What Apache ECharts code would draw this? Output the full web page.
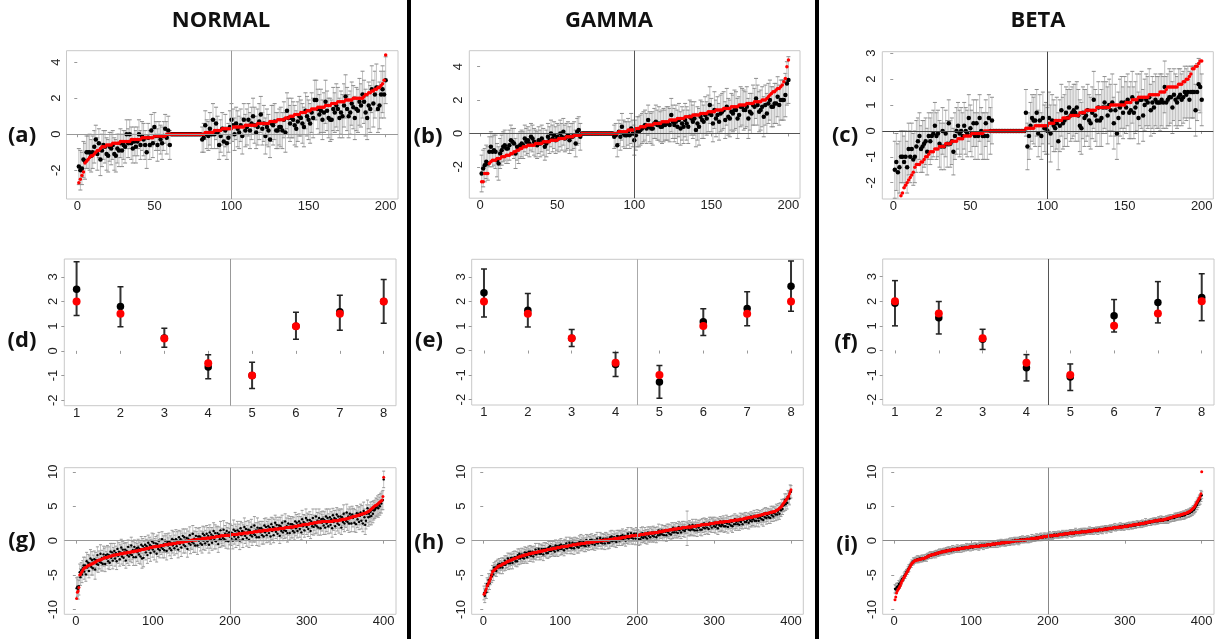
<!DOCTYPE html>
<html><head><meta charset="utf-8">
<script src="https://cdn.jsdelivr.net/npm/echarts@6/dist/echarts.min.js"></script>
<style>html,body{margin:0;padding:0;background:#fff}#c{width:1223px;height:639px}</style>
</head><body><div id="c"></div>
<script>
// ---------- tick labels ----------
const ticks200 = [0, 50, 100, 150, 200];
const ticks400 = [0, 100, 200, 300, 400];
const ticks8 = [1, 2, 3, 4, 5, 6, 7, 8];
const yTicksAB = [-2, 0, 2, 4];
const yTicksC = [-2, -1, 0, 1, 2, 3];
const yTicksRow2 = [-2, -1, 0, 1, 2, 3];
const yTicksRow3 = [-10, -5, 0, 5, 10];
const columnTitles = ['NORMAL', 'GAMMA', 'BETA'];
const panelLabels = ['(a)', '(b)', '(c)', '(d)', '(e)', '(f)', '(g)', '(h)', '(i)'];

// ---------- (a) NORMAL, 200 effects ----------
const aTrue = [
-2.7,-2.5,-2.3,-2.1,-1.6,-1.5,-1.4,-1.3,-1.2,-1.2,
-1.1,-1,-.9,-.9,-.8,-.7,-.7,-.7,-.6,-.6,
-.6,-.6,-.5,-.5,-.5,-.5,-.5,-.4,-.4,-.4,
-.4,-.4,-.4,-.4,-.3,-.3,-.3,-.3,-.3,-.3,
-.3,-.2,-.2,-.2,-.2,-.2,-.2,-.2,-.2,-.1,
-.1,-.1,-.1,-.1,-.1,-.1,-.1,0,0,0,
0,0,0,0,0,0,0,0,0,0,
0,0,0,0,0,0,0,0,0,0,
0,0,.1,.1,.1,.1,.1,.1,.2,.2,
.2,.2,.2,.3,.3,.3,.3,.3,.3,.3,
.4,.4,.4,.4,.4,.4,.4,.4,.5,.5,
.5,.5,.5,.5,.5,.5,.6,.6,.6,.6,
.6,.6,.6,.6,.7,.7,.7,.7,.7,.8,
.8,.8,.8,.8,.9,.9,.9,1,1,1,
1.1,1.1,1.1,1.1,1.2,1.2,1.2,1.2,1.3,1.3,
1.3,1.4,1.4,1.4,1.4,1.5,1.5,1.5,1.5,1.5,
1.6,1.6,1.6,1.6,1.7,1.7,1.7,1.7,1.8,1.8,
1.8,1.8,1.8,1.9,1.9,1.9,1.9,1.9,2,2,
2,2,2,2,2,2.1,2.2,2.2,2.3,2.3,
2.4,2.4,2.5,2.5,2.6,2.6,2.7,2.8,3,4.4];
const aEst = [
-1.8,-2,-1.9,-1.4,-1.5,-1,-1,-1,-1.2,-1,
-.7,-.3,-1.1,-.5,-1.4,-.9,-.6,-.7,-1.1,-1.2,
-.7,-.8,-.6,-1.1,-1.2,-.8,-.9,-.5,-.9,-.6,
-.7,0,-.5,0,-.5,-.8,-.4,-.7,-.4,0,
-.6,-.1,-.3,-.6,-1,-.2,-.6,.2,-.5,.4,
-.1,-.6,-.1,-.3,-.5,-.1,.3,-.2,.2,-.6,
0,0,0,0,0,0,0,0,0,0,
0,0,0,0,0,0,0,0,0,0,
-.3,-.2,.5,0,-.1,.3,0,.8,0,.6,
.1,-.6,-.1,.3,-.4,.2,-.5,-.2,.4,.8,
.5,0,.6,.3,.1,.5,-.1,.8,.2,.4,
.8,.2,.6,1,.5,.1,.4,.7,1.1,.3,
.6,-.1,.4,.2,-.3,.6,.5,.7,.2,.2,
.4,.4,.2,.8,.1,1.3,.9,.6,.9,.8,
.5,.3,.7,1,.9,.6,.4,1.3,1,.8,
.6,1.2,.9,1.9,1.9,1.4,1.1,1.3,.8,1.2,
1.8,1.3,.9,.8,.8,1.4,1.2,1.6,1.4,.9,
1.2,1,1.6,2.1,1.4,1,1.2,1.7,1.5,.9,
1.4,1.3,1.8,1.6,2.2,1.8,1.2,.9,1.6,1.4,
2.5,1.7,2.2,2.6,1.4,1.6,2.2,2.5,2.2,3];
const aErr = [
1,1.1,.9,1,1,.9,.9,1,.9,.9,
.9,.8,.9,.8,.9,.9,.8,.9,.9,.9,
.8,.9,.8,.9,.9,.8,.9,.8,.9,.8,
.9,.8,.8,.8,.9,.8,.8,.9,.8,.8,
.8,.8,.9,.8,.9,.8,.8,.9,.8,.8,
.8,.9,.8,.8,.9,.8,.8,.9,.8,.8,
0,0,0,0,0,0,0,0,0,0,
0,0,0,0,0,0,0,0,0,0,
.7,.8,.8,.8,.8,.9,.8,.9,.8,.9,
.9,.8,.9,.9,.8,.9,.9,.8,.9,.9,
.9,.9,.9,1,.9,.9,1,.9,.9,1,
.9,1,.9,1,1,.9,1,1,1,.9,
1,1,1,.9,1,1,1.1,1,1,1,
1,1.1,1,1,1.1,1,1.1,1,1.1,1,
1.1,1,1.1,1.1,1,1.1,1.1,1,1.1,1.1,
1.1,1.1,1.1,1.1,1.1,1.1,1.1,1.2,1.1,1.1,
1.2,1.1,1.1,1.2,1.1,1.2,1.1,1.2,1.2,1.1,
1.2,1.2,1.2,1.2,1.2,1.2,1.2,1.2,1.2,1.2,
1.2,1.2,1.3,1.2,1.3,1.2,1.3,1.2,1.3,1.3,
1.3,1.3,1.3,1.3,1.3,1.3,1.3,1.3,1.3,1.3];

// ---------- (b) GAMMA, 200 effects ----------
const bTrue = [
-2.9,-2.9,-2.4,-2.4,-2.4,-1.8,-1.7,-1.6,-1.6,-1.6,
-1.5,-1.5,-1.5,-1.4,-1.4,-1.4,-1.3,-1.3,-1.3,-1.2,
-1.2,-1.1,-1.1,-1,-1,-.9,-.9,-.8,-.8,-.8,
-.7,-.7,-.7,-.7,-.7,-.6,-.6,-.6,-.6,-.6,
-.5,-.5,-.5,-.5,-.5,-.4,-.4,-.4,-.4,-.4,
-.3,-.3,-.3,-.3,-.3,-.2,-.2,-.2,-.2,-.2,
-.1,-.1,-.1,-.1,-.1,0,0,0,0,0,
0,0,0,0,0,0,0,0,0,0,
0,0,0,0,0,0,0,0,0,.1,
.1,.1,.1,.1,.1,.2,.2,.2,.2,.2,
.3,.3,.3,.4,.4,.4,.4,.5,.5,.5,
.5,.5,.6,.6,.6,.6,.6,.7,.7,.7,
.7,.7,.8,.8,.8,.8,.8,.9,.9,.9,
.9,.9,1,1,1,1,1,1.1,1.1,1.1,
1.1,1.1,1.2,1.2,1.2,1.2,1.2,1.3,1.3,1.3,
1.3,1.3,1.4,1.4,1.4,1.4,1.4,1.5,1.5,1.5,
1.5,1.5,1.6,1.6,1.6,1.6,1.6,1.7,1.7,1.7,
1.7,1.7,1.8,1.8,1.8,1.8,1.8,1.9,1.9,1.9,
1.9,1.9,2,2,2,2.1,2.2,2.3,2.4,2.5,
2.5,2.6,2.7,2.7,2.8,2.9,3.1,3.3,4,4.4];
const bEst = [
-2.4,-2.1,-1.9,-1.7,-1.8,-1.1,-.8,-1.1,-1,-1.1,
-1.6,-1.8,-1.2,-1,-.8,-.7,-.9,-.9,-.7,-.4,
-.5,-.6,-1.2,-.8,-.9,-.7,-.6,-.7,-.3,-.5,
-.4,-.6,-.2,-.3,-.5,-.6,-.7,-.4,-.6,-.3,
-.5,-.8,-.6,-.2,-.4,0,-.3,-.1,-.4,-.2,
-.3,0,-.2,.1,-.3,-.2,-.1,-.4,-.2,-.2,
-.1,-.6,.1,.2,-.2,0,0,0,0,0,
0,0,0,0,0,0,0,0,0,0,
0,0,0,0,0,0,-.2,-.1,-.7,.1,
-.2,.4,0,-.1,-.1,.1,-.1,.3,0,-.4,
-.1,.1,.1,.2,.3,.4,.5,.3,.8,.4,
.3,.3,.6,.7,.5,.6,.4,.4,.5,.5,
.6,.6,.5,1.1,.7,.5,.7,.4,.8,.3,
.6,.4,.8,.6,.4,1,.9,.7,.9,.2,
.6,.4,1,.8,.7,1.1,.9,1.2,1.7,1.1,
.6,1.4,.9,1.1,.7,1.2,1.3,1.4,.8,1.6,
1,.9,1.3,1.2,1.4,1.4,.9,1.1,1.6,1.6,
1.4,1.4,1.6,.9,1.3,1.2,1.7,1.6,2.1,1.7,
1.3,1.4,1.6,1,1.7,1.2,1.8,2,1.6,1.6,
1.8,1.8,2.2,1.7,2,2,2,2.3,3,3.2];
const bErr = [
1.1,1.1,1,1,1,.9,.9,.9,.9,1,
1,1,.9,.9,.9,.9,.9,.9,.9,.9,
.8,.9,.9,.8,.9,.8,.8,.8,.8,.8,
.8,.8,.8,.8,.8,.8,.8,.8,.8,.8,
.8,.8,.8,.8,.8,.8,.8,.8,.8,.8,
.8,.8,.8,.8,.8,.8,.8,.8,.8,.8,
.8,.8,.8,.8,.8,0,0,0,0,0,
0,0,0,0,0,0,0,0,0,0,
0,0,0,0,0,0,.7,.7,.7,.7,
.8,.8,.8,.8,.8,.8,.8,.9,.8,.9,
.9,.9,.9,.9,.9,.9,.9,.9,.9,.9,
.9,1,.9,1,.9,1,.9,1,1,.9,
1,1,1,1,1,1,1,1,1,1,
1,1,1,1,1,1,1,1,1,1,
1,1.1,1,1.1,1,1.1,1,1.1,1.1,1,
1.1,1.1,1.1,1.1,1.1,1.1,1.1,1.1,1.1,1.1,
1.1,1.1,1.1,1.1,1.2,1.1,1.2,1.1,1.2,1.1,
1.2,1.1,1.2,1.2,1.1,1.2,1.2,1.1,1.2,1.2,
1.2,1.2,1.2,1.2,1.2,1.2,1.2,1.2,1.2,1.2,
1.2,1.2,1.2,1.2,1.2,1.2,1.2,1.3,1.3,1.4];

// ---------- (c) BETA, 200 effects ----------
const cTrue = [
-3.2,-3,-2.9,-2.7,-2.5,-2.4,-2.2,-2.1,-2,-1.9,
-1.8,-1.7,-1.6,-1.4,-1.3,-1.3,-1.3,-1.2,-1.2,-1.1,
-1,-1,-.9,-.8,-.8,-.8,-.7,-.7,-.7,-.6,
-.6,-.6,-.6,-.5,-.5,-.5,-.5,-.4,-.4,-.4,
-.4,-.3,-.3,-.3,-.3,-.2,-.2,-.2,-.2,-.2,
-.1,-.1,-.1,-.1,-.1,-.1,-.1,-.1,0,0,
0,0,0,0,0,0,0,0,0,0,
0,0,0,0,0,0,0,0,0,0,
0,0,0,0,0,.1,.1,.1,.1,.1,
.1,.2,.2,.2,.2,.2,.2,.2,.2,.2,
.3,.3,.3,.3,.4,.4,.4,.4,.4,.5,
.5,.5,.5,.5,.6,.6,.6,.6,.6,.6,
.7,.7,.7,.7,.8,.8,.8,.8,.8,.8,
.8,.9,.9,.9,.9,.9,.9,.9,.9,.9,
1,1,1,1,1,1,1,1,1,1,
1.1,1.1,1.1,1.1,1.2,1.2,1.2,1.2,1.3,1.3,
1.3,1.3,1.3,1.3,1.3,1.4,1.4,1.4,1.4,1.4,
1.4,1.4,1.5,1.5,1.5,1.5,1.6,1.7,1.7,1.7,
1.7,1.7,1.7,1.7,1.8,1.8,1.8,1.9,1.9,2,
2,2.1,2.2,2.4,2.4,2.5,2.5,2.6,2.7,2.7];
const cEst = [
-1.5,-1.2,-1.6,-1.4,-1,-1,-1.2,-1,-1.4,-.7,
-1,-.7,-1.1,-1,-.6,-.4,-.2,-.7,-.6,-.5,
-.4,-.8,-.2,-.4,-.2,-.1,.2,-.2,-.1,-.5,
-.6,0,-.6,-.1,-.5,.3,-.5,-.4,-.8,-.2,
0,.2,-.1,0,-.2,.2,0,-.1,.5,.1,
-.1,.3,-.2,.3,-.2,.5,0,-.2,-.2,.3,
-.2,.5,0,.4,0,0,0,0,0,0,
0,0,0,0,0,0,0,0,0,0,
0,0,0,0,0,.7,-.6,-.2,.2,.5,
.4,.4,.7,-.1,.4,-.2,.5,.1,.1,0,
.5,-.1,.4,.2,.1,.3,-.4,.2,.8,.3,
.4,.7,.5,.9,.6,.7,.8,.7,.9,.6,
.2,.1,.7,.5,.6,.8,.4,.3,.7,1.2,
.6,.4,.9,.4,.5,.9,1.1,.9,.6,1,
.8,1.1,.3,.8,-.1,.5,.9,1.1,.7,1.1,
.9,1.2,.7,.8,1.3,.7,.9,1.1,.5,1.2,
1.2,.6,1,1.2,1.1,1.3,.8,1.1,.9,1.2,
1.1,1.1,1.1,1.2,1.1,1.7,1.1,1.2,1.3,1.3,
.9,1.4,1.2,1.1,1.3,1.4,1.2,1.3,1.5,1.4,
1.5,1.2,1.5,1.5,1.5,.8,1.5,1.8,1.7,1.2];
const cErr = [
1.1,1.1,1.1,1,1,1,1,1,1,1,
1,1,1,1,1,.9,.9,.9,1,.9,
.9,.9,.9,.9,.9,.9,.9,.9,.9,.9,
.9,.9,.9,.9,.9,.9,.9,.9,.9,.9,
.9,.9,.9,.9,.9,.9,.9,.9,.9,.9,
.9,.9,.9,.9,.9,.9,.9,.9,.9,.9,
.9,.9,.9,.9,0,0,0,0,0,0,
0,0,0,0,0,0,0,0,0,0,
0,0,0,0,0,.9,.9,.9,.9,.9,
.9,1,.9,.9,1,.9,1,.9,1,.9,
1,1.1,1,1,.9,1,1.1,1,1,1,
1,1,1.1,1,1,1,1,1.1,1,1,
1,1,1,1.1,1,1,1,1,1,1.1,
1,1,1,1,1.1,1,1,1,1.1,1,
1,1.1,1,1,1,1,1.1,1,1,1,
1,1,1,1.1,1,1,1,1.1,1,1,
1.1,1,1,1,1,1.1,1,1,1,1,
1,1,1.1,1,1,1,1,1,1.1,1,
1,1,1,1,1.1,1,1,1,1,1,
1,1.1,1,1,1,1,1.1,1,1,1];

// ---------- (d)(e)(f) 8 effects ----------
const trueEffects8 = [2, 1.5, .5, -.5, -1, 1, 1.5, 2];
const dEst = [2.5, 1.8, .52, -.65, -1, 1, 1.58, 2];
const dLo  = [1.43, .98, .15, -1.13, -1.52, .47, .83, 1.12];
const dHi  = [3.61, 2.6, .92, -.16, -.46, 1.56, 2.25, 2.89];
const eEst = [2.36, 1.64, .5, -.57, -1.28, 1.17, 1.71, 2.62];
const eLo  = [1.37, .96, .16, -1.06, -1.94, .61, 1.01, 1.6];
const eHi  = [3.32, 2.33, .86, -.08, -.61, 1.7, 2.4, 3.65];
const fEst = [1.92, 1.33, .46, -.7, -1.08, 1.41, 1.95, 2.15];
const fLo  = [1, .67, .04, -1.24, -1.63, .75, 1.12, 1.21];
const fHi  = [2.84, 1.99, .86, -.17, -.55, 2.07, 2.8, 3.12];

// ---------- (g) NORMAL, 400 effects ----------
const gTrue = [
-8.4,-7.5,-7.3,-6.8,-5,-4.9,-4.7,-4.5,-4.3,-4.1,
-4,-3.9,-3.9,-3.8,-3.7,-3.6,-3.6,-3.5,-3.5,-3.4,
-3.4,-3.3,-3.3,-3.2,-3.1,-3.1,-3,-2.9,-2.9,-2.8,
-2.8,-2.8,-2.7,-2.7,-2.6,-2.6,-2.5,-2.5,-2.5,-2.4,
-2.4,-2.4,-2.3,-2.3,-2.3,-2.2,-2.2,-2.2,-2.1,-2.1,
-2.1,-2.1,-2,-2,-2,-2,-1.9,-1.9,-1.9,-1.9,
-1.9,-1.8,-1.8,-1.8,-1.8,-1.8,-1.7,-1.7,-1.7,-1.7,
-1.7,-1.6,-1.6,-1.6,-1.6,-1.5,-1.5,-1.5,-1.5,-1.5,
-1.4,-1.4,-1.4,-1.4,-1.3,-1.3,-1.3,-1.3,-1.2,-1.2,
-1.2,-1.1,-1.1,-1.1,-1.1,-1,-1,-1,-1,-.9,
-.9,-.9,-.9,-.9,-.8,-.8,-.8,-.8,-.8,-.7,
-.7,-.7,-.7,-.7,-.6,-.6,-.6,-.6,-.6,-.5,
-.5,-.5,-.5,-.5,-.5,-.4,-.4,-.4,-.4,-.4,
-.3,-.3,-.3,-.3,-.3,-.2,-.2,-.2,-.2,-.2,
-.1,-.1,-.1,-.1,-.1,0,0,0,0,0,
.1,.1,.1,.1,.1,.1,.1,.2,.2,.2,
.2,.2,.2,.3,.3,.3,.3,.3,.3,.4,
.4,.4,.4,.4,.4,.5,.5,.5,.5,.5,
.5,.6,.6,.6,.6,.6,.6,.7,.7,.7,
.7,.7,.7,.8,.8,.8,.8,.8,.8,.8,
.8,.9,.9,.9,.9,.9,.9,.9,.9,.9,
1,1,1,1,1,1,1,1.1,1.1,1.1,
1.1,1.1,1.1,1.1,1.2,1.2,1.2,1.2,1.2,1.2,
1.3,1.3,1.3,1.3,1.3,1.3,1.4,1.4,1.4,1.4,
1.4,1.4,1.4,1.5,1.5,1.5,1.5,1.5,1.5,1.5,
1.6,1.6,1.6,1.6,1.6,1.6,1.6,1.7,1.7,1.7,
1.7,1.7,1.7,1.7,1.8,1.8,1.8,1.8,1.8,1.8,
1.8,1.9,1.9,1.9,1.9,1.9,1.9,2,2,2,
2,2,2,2.1,2.1,2.1,2.1,2.1,2.2,2.2,
2.2,2.2,2.2,2.3,2.3,2.3,2.3,2.3,2.4,2.4,
2.4,2.4,2.4,2.5,2.5,2.5,2.5,2.5,2.6,2.6,
2.6,2.6,2.6,2.7,2.7,2.7,2.7,2.7,2.7,2.8,
2.8,2.8,2.8,2.8,2.8,2.8,2.8,2.8,2.8,2.8,
2.8,2.8,2.8,2.9,2.9,2.9,2.9,2.9,2.9,2.9,
2.9,3,3,3,3,3.1,3.1,3.1,3.1,3.1,
3.2,3.2,3.2,3.3,3.3,3.3,3.4,3.4,3.4,3.5,
3.5,3.5,3.6,3.6,3.6,3.7,3.7,3.7,3.8,3.8,
3.8,3.9,3.9,3.9,4,4,4.1,4.1,4.2,4.2,
4.3,4.4,4.5,4.6,4.7,4.8,4.9,5,5.1,5.1,
5.2,5.3,5.4,5.5,5.6,5.7,5.8,5.9,6.4,9.2];
const gEst = [
-6.9,-6.7,-7.1,-6.6,-4.6,-5.3,-4.3,-4.9,-4,-3.6,
-4.5,-3.6,-4.9,-3,-3.9,-3.2,-4.4,-3.3,-2.6,-3.8,
-2.8,-4,-3.2,-2.7,-4.2,-2.8,-3.4,-2.1,-3.5,-2.8,
-3.1,-1.9,-3.2,-2.5,-3.4,-2,-2.4,-3.4,-2.1,-2.6,
-2,-3,-2.1,-3.2,-1.6,-2.5,-1.7,-2.9,-2,-1.5,
-2.6,-1.8,-3,-1.2,-2.2,-1.6,-2.7,-1.7,-1,-2.3,
-1.3,-2.5,-1.7,-1.3,-2.9,-1.5,-2.1,-.9,-2.3,-1.7,
-2,-.7,-2.1,-1.4,-2.4,-.9,-1.4,-2.4,-1.1,-1.7,
-1,-2,-1.2,-2.3,-.6,-2.6,-.8,-2.5,-1.1,-.6,
-1.7,-.8,-2.1,-.3,-1.3,-.6,-1.8,-.8,-.1,-1.3,
-.3,-1.6,-.8,-.4,-1.9,-.5,-1.2,0,-1.4,-.7,
-1,.2,-1.2,-.5,-1.4,0,-.5,-1.5,-.2,-.7,
-.1,-1.1,-.3,-1.4,.2,-.7,.1,-1.1,-.3,.2,
-.8,0,-1.3,.5,-.5,.2,-1,0,.7,-.6,
.5,-.8,0,.4,-1.2,.3,-.4,.8,-.6,0,
-.2,1,-.4,.3,-.7,.7,.2,-.7,.6,0,
.6,-.4,.4,-.6,1,0,.8,-.4,.4,1,
-.1,.7,-.6,1.2,.2,.9,-.3,.7,1.4,.1,
1.1,-.1,.7,1.1,-.5,.9,.2,1.5,.1,.7,
.4,1.6,.2,1,0,1.4,.9,-.1,1.2,.6,
1.2,.3,1.1,0,1.6,.6,1.4,.2,1,1.5,
.5,1.3,0,1.8,.8,1.4,.2,1.3,2,.7,
1.7,.4,1.2,1.6,.1,1.5,.8,2,.6,1.2,
1,2.2,.8,1.5,.5,1.9,1.5,.5,1.8,1.2,
1.8,.8,1.6,.6,2.2,1.2,2,.8,1.6,2.1,
1.1,1.9,.6,2.4,1.4,2,.8,1.9,2.6,1.3,
2.3,1,1.8,2.2,.7,2.1,1.4,2.6,1.2,1.8,
1.5,2.8,1.4,2.1,1.1,2.5,2,1.1,2.4,1.8,
2.4,1.4,2.2,1.2,2.8,1.8,2.6,1.4,2.3,2.8,
1.7,2.5,1.2,3.1,2.1,2.7,1.5,2.5,3.3,2,
3,1.7,2.5,3,1.4,2.8,2.1,3.3,2,2.6,
2.3,3.5,2.1,2.9,1.9,3.3,2.8,1.8,3.1,2.6,
3.2,2.2,3,1.9,3.5,2.5,3.3,2.1,2.9,3.4,
2.3,3.1,1.8,3.7,2.7,3.3,2.1,3.1,3.8,2.5,
3.5,2.3,3.1,3.5,1.9,3.4,2.7,3.9,2.5,3.1,
2.9,4.1,2.7,3.5,2.5,3.9,3.5,2.5,3.8,3.3,
3.6,2.6,3.5,2.4,4,3.1,3.9,2.7,3.6,4.1,
2.9,3.8,2.5,4.3,3.4,2.3,2.9,3.9,4.7,3.4,
3.9,3.5,4.2,3.6,4.5,3.9,4.4,4.4,4.6,4.9,
4.8,5.1,4.7,5.3,5,5.5,5.4,5.8,5.9,8.9];
const gErr = [
1.5,1.4,1.4,1.3,1.2,1.2,1.1,1.2,1.1,1.2,
1.1,1.2,1,1.3,1.1,1.2,1,1.1,1.3,1.2,
1.2,1,1.1,1.2,1.4,1.1,1,1.2,1.1,1.3,
1,1.3,1.2,1.1,1,1.2,1.3,1.1,1.2,1,
1.3,1.1,1.2,1,1.2,1.1,1.3,1.2,1,1.1,
1.1,1,1.2,1.2,1.1,1.3,1,1.1,1.2,1.1,
1.2,1.1,1.3,1,1.1,1.2,1.2,1,1.3,1.1,
1,1.2,1.1,1.3,1.2,1,1.1,1.2,1.1,1.3,
1.2,1.3,1,1.1,1.2,1.4,1.1,1.3,1,1.2,
1.1,1,1.2,1.1,1.3,1.1,1.2,1,1.2,1.1,
1.3,1.2,1.1,1,1.2,1.3,1.1,1.2,1.1,1,
1,1.1,1.3,1.2,1.1,1,1.2,1.3,1.2,1.1,
1.2,1.1,1,1.2,1.3,1.1,1.2,1,1.1,1.4,
1.1,1.3,1.2,1,1.1,1.2,1.3,1.1,1,1.2,
1.2,1,1.1,1.3,1.2,1.1,1,1.2,1.3,1.1,
1.1,1.2,1.3,1.1,1,1.2,1.1,1.3,1.2,1,
1.3,1.1,1,1.2,1.1,1.3,1.2,1,1.1,1.2,
1,1.2,1.2,1.1,1.3,1,1.1,1.2,1.2,1.3,
1.2,1.1,1.3,1,1.2,1.1,1.2,1.3,1,1.1,
1.1,1.3,1,1.2,1.1,1.2,1,1.1,1.3,1.2,
1.2,1,1.1,1.2,1.4,1.1,1,1.2,1.1,1.3,
1.2,1.1,1.3,1,1.1,1.2,1.2,1,1.3,1.1,
1.1,1.2,1,1.3,1.1,1.2,1,1.1,1.3,1.2,
1.2,1.3,1,1.1,1.2,1.4,1.1,1.3,1,1.2,
1,1.3,1.2,1.1,1,1.2,1.3,1.1,1.2,1,
1.3,1.2,1.1,1,1.2,1.3,1.1,1.2,1.1,1,
1.1,1,1.2,1.2,1.1,1.3,1,1.1,1.2,1.1,
1.2,1.1,1,1.2,1.3,1.1,1.2,1,1.1,1.4,
1.1,1,1.2,1.1,1.3,1.1,1.2,1,1.2,1.1,
1.2,1,1.1,1.3,1.2,1.1,1,1.2,1.3,1.1,
1,1.1,1.3,1.2,1.1,1,1.2,1.3,1.2,1.1,
1.3,1.1,1,1.2,1.1,1.3,1.2,1,1.1,1.2,
1.1,1.3,1.2,1,1.1,1.2,1.3,1.1,1,1.2,
1.2,1.1,1.3,1,1.2,1.1,1.2,1.3,1,1.1,
1.1,1.2,1.3,1.1,1,1.2,1.1,1.3,1.2,1,
1,1.2,1.2,1.1,1.3,1,1.1,1.2,1.2,1.3,
1.1,1.3,1,1.2,1.1,1.2,1,1.1,1.3,1.2,
1.2,1.3,1.2,1.3,1.2,1.4,1.2,1.3,1.2,1.3,
1.3,1.2,1.4,1.3,1.2,1.3,1.4,1.2,1.3,1.3,
1.3,1.4,1.3,1.4,1.3,1.4,1.4,1.3,1.4,1.2];

// ---------- (h) GAMMA, 400 effects ----------
const hTrue = [
-7.8,-7.6,-7.3,-7,-6.6,-6.4,-6.1,-5.9,-5.6,-5.3,
-4.9,-4.5,-4.4,-4.3,-4.2,-4.1,-4,-3.9,-3.8,-3.7,
-3.7,-3.6,-3.6,-3.5,-3.4,-3.4,-3.3,-3.3,-3.2,-3.1,
-3.1,-3,-3,-2.9,-2.9,-2.8,-2.8,-2.7,-2.7,-2.6,
-2.6,-2.6,-2.5,-2.5,-2.4,-2.4,-2.3,-2.3,-2.3,-2.2,
-2.2,-2.2,-2.1,-2.1,-2.1,-2,-2,-2,-1.9,-1.9,
-1.9,-1.9,-1.8,-1.8,-1.8,-1.8,-1.7,-1.7,-1.7,-1.7,
-1.6,-1.6,-1.6,-1.6,-1.5,-1.5,-1.5,-1.5,-1.4,-1.4,
-1.4,-1.4,-1.3,-1.3,-1.3,-1.3,-1.2,-1.2,-1.2,-1.2,
-1.1,-1.1,-1.1,-1.1,-1.1,-1,-1,-1,-1,-1,
-.9,-.9,-.9,-.9,-.9,-.8,-.8,-.8,-.8,-.8,
-.7,-.7,-.7,-.7,-.7,-.6,-.6,-.6,-.6,-.6,
-.6,-.5,-.5,-.5,-.5,-.5,-.4,-.4,-.4,-.4,
-.4,-.4,-.3,-.3,-.3,-.3,-.3,-.3,-.2,-.2,
-.2,-.2,-.2,-.2,-.1,-.1,-.1,-.1,-.1,-.1,
0,0,0,0,0,0,.1,.1,.1,.1,
.1,.1,.1,.2,.2,.2,.2,.2,.2,.3,
.3,.3,.3,.3,.3,.4,.4,.4,.4,.4,
.5,.5,.5,.5,.5,.6,.6,.6,.6,.6,
.6,.7,.7,.7,.7,.7,.7,.8,.8,.8,
.8,.8,.8,.9,.9,.9,.9,.9,.9,1,
1,1,1,1,1,1.1,1.1,1.1,1.1,1.1,
1.1,1.1,1.2,1.2,1.2,1.2,1.2,1.3,1.3,1.3,
1.3,1.3,1.4,1.4,1.4,1.4,1.5,1.5,1.5,1.5,
1.5,1.6,1.6,1.6,1.6,1.6,1.7,1.7,1.7,1.7,
1.7,1.7,1.8,1.8,1.8,1.8,1.8,1.8,1.9,1.9,
1.9,1.9,1.9,1.9,2,2,2,2,2,2,
2,2.1,2.1,2.1,2.1,2.1,2.1,2.2,2.2,2.2,
2.2,2.2,2.3,2.3,2.3,2.3,2.3,2.3,2.4,2.4,
2.4,2.4,2.4,2.4,2.5,2.5,2.5,2.5,2.5,2.5,
2.6,2.6,2.6,2.6,2.6,2.6,2.7,2.7,2.7,2.7,
2.7,2.7,2.7,2.8,2.8,2.8,2.8,2.8,2.8,2.8,
2.9,2.9,2.9,2.9,2.9,2.9,3,3,3,3,
3,3,3.1,3.1,3.1,3.1,3.1,3.2,3.2,3.2,
3.3,3.3,3.3,3.3,3.4,3.4,3.4,3.4,3.4,3.4,
3.5,3.5,3.5,3.6,3.6,3.6,3.6,3.7,3.7,3.7,
3.7,3.8,3.8,3.8,3.9,3.9,3.9,3.9,4,4,
4,4.1,4.1,4.1,4.1,4.2,4.2,4.2,4.2,4.3,
4.4,4.4,4.5,4.6,4.7,4.8,4.9,5,5.2,5.4,
5.5,5.7,5.8,6,6.1,6.3,6.5,6.8,7.1,7.4];
const hEst = [
-7.6,-8,-7.2,-7.5,-6.3,-6.6,-5.7,-6.2,-5.6,-5.1,
-5.2,-4.4,-4.9,-3.9,-4.3,-3.9,-4.4,-3.8,-3.5,-3.9,
-3.4,-3.9,-3.6,-3.3,-3.9,-3.3,-3.5,-2.9,-3.5,-3.1,
-3.2,-2.6,-3.3,-2.8,-3.3,-2.5,-2.8,-3.2,-2.5,-2.7,
-2.4,-3,-2.4,-3,-2.1,-2.6,-1.9,-2.6,-2.3,-2,
-2.5,-2.1,-2.6,-1.7,-2.2,-1.8,-2.4,-1.9,-1.6,-2.1,
-1.6,-2.2,-1.8,-1.6,-2.3,-1.7,-1.9,-1.3,-2,-1.7,
-1.7,-1.2,-1.9,-1.5,-1.9,-1.2,-1.5,-2,-1.2,-1.5,
-1.2,-1.8,-1.2,-1.8,-1,-1.5,-.8,-1.5,-1.2,-1,
-1.4,-1,-1.6,-.7,-1.2,-.8,-1.4,-.9,-.7,-1.2,
-.6,-1.2,-.9,-.7,-1.4,-.7,-1,-.4,-1.1,-.8,
-.8,-.3,-1,-.6,-1.1,-.3,-.6,-1.1,-.4,-.7,
-.4,-.9,-.4,-1,-.2,-.7,0,-.7,-.4,-.2,
-.7,-.3,-.8,.1,-.4,-.1,-.7,-.2,.1,-.4,
.1,-.5,-.2,0,-.6,0,-.3,.3,-.4,-.1,
-.1,.4,-.3,.1,-.4,.3,.1,-.4,.3,0,
.3,-.3,.2,-.3,.5,0,.6,-.1,.2,.5,
0,.4,-.2,.7,.2,.6,0,.5,.7,.2,
.8,.2,.5,.7,0,.7,.4,1,.3,.6,
.5,1.1,.4,.8,.3,1,.7,.3,1,.7,
.8,.2,.7,.2,1,.5,1.1,.4,.7,1,
.5,.9,.3,1.2,.7,1.1,.5,1,1.2,.7,
1.2,.6,1,1.2,.5,1.1,.8,1.5,.8,1.1,
1,1.5,.9,1.3,.8,1.5,1.3,.8,1.5,1.2,
1.5,1,1.5,.9,1.7,1.2,1.9,1.2,1.5,1.7,
1.2,1.6,1.1,2,1.5,1.8,1.2,1.7,2,1.5,
2,1.4,1.7,1.9,1.8,1.9,1.6,2.2,1.5,1.8,
1.7,2.3,1.6,2,1.5,2.2,1.9,1.5,2.2,1.9,
2.2,1.6,2.2,1.6,2.4,1.9,2.5,1.8,2.2,2.4,
1.9,2.3,1.7,2.6,2.2,2.5,1.9,2.4,2.6,2.1,
2.6,2,2.3,2.5,1.8,2.4,2.2,2.8,2.1,2.4,
2.3,2.8,2.1,2.6,2.1,2.8,2.5,2,2.7,2.4,
2.8,2.2,2.7,2.1,2.9,2.4,3.1,2.4,2.7,2.9,
2.4,2.8,2.3,3.2,2.7,3,2.4,3,3.2,2.7,
3.3,2.7,3,3.2,2.6,3.2,2.9,3.5,2.8,3.1,
3.1,3.6,2.9,3.4,2.9,3.6,3.3,2.9,3.6,3.3,
3.6,3.1,3.6,3,3.9,3.4,4,3.3,3.7,3.9,
3.4,3.9,3.3,4.2,3.7,4.1,3.5,4,4.2,3.8,
4.4,3.8,4.2,4.5,3.9,4.6,4.4,5.1,4.6,5.1,
5.2,5.9,5.3,5.9,5.5,6.4,6.3,6.1,7.1,7.1];
const hErr = [
1,1,1,.9,.9,.9,.9,.9,.8,.8,
.9,.8,.9,.7,.8,.9,.8,.9,.8,.7,
.8,.9,.7,.8,.9,.8,.9,.7,.8,.9,
.7,.8,.9,.9,.8,.7,.8,.9,.9,.8,
.9,.7,.8,.8,.9,.9,.7,.8,.8,.9,
.8,.9,.7,.8,.9,.8,.9,.7,.8,.9,
.9,.8,.9,.7,.8,.9,.8,.9,.8,.7,
.7,.8,.9,.9,.8,.7,.8,.9,.9,.8,
.9,.7,.8,.8,.9,.9,.7,.8,.8,.9,
.8,.9,.7,.8,.9,.8,.9,.7,.8,.9,
.9,.8,.9,.7,.8,.9,.8,.9,.8,.7,
.7,.8,.9,.9,.8,.7,.8,.9,.9,.8,
.8,.9,.7,.8,.9,.8,.9,.7,.8,.9,
.9,.7,.8,.8,.9,.9,.7,.8,.8,.9,
.9,.8,.9,.7,.8,.9,.8,.9,.8,.7,
.7,.8,.9,.9,.8,.7,.8,.9,.9,.8,
.8,.9,.7,.8,.9,.8,.9,.7,.8,.9,
.9,.7,.8,.8,.9,.9,.7,.8,.8,.9,
.9,.8,.9,.7,.8,.9,.8,.9,.8,.7,
.7,.8,.9,.9,.8,.7,.8,.9,.9,.8,
.8,.9,.7,.8,.9,.8,.9,.7,.8,.9,
.9,.7,.8,.8,.9,.9,.7,.8,.8,.9,
.9,.8,.9,.7,.8,.9,.8,.9,.8,.7,
.7,.8,.9,.9,.8,.7,.8,.9,.9,.8,
.9,.7,.8,.8,.9,.9,.7,.8,.8,.9,
.8,.9,.7,.8,.9,.8,.9,.7,.8,.9,
.8,.9,.7,.8,2.5,.8,.9,.7,.8,.9,
.9,.8,.9,.7,.8,.9,.8,.9,.8,.7,
.7,.8,.9,.9,.8,.7,.8,.9,.9,.8,
.9,.7,.8,.8,.9,.9,.7,.8,.8,.9,
.8,.9,.7,.8,.9,.8,.9,.7,.8,.9,
.9,.8,.9,.7,.8,.9,.8,.9,.8,.7,
.7,.8,.9,.9,.8,.7,.8,.9,.9,.8,
.9,.7,.8,.8,.9,.9,.7,.8,.8,.9,
.8,.9,.7,.8,.9,.8,.9,.7,.8,.9,
.9,.8,.9,.7,.8,.9,.8,.9,.8,.7,
.7,.8,.9,.9,.8,.7,.8,.9,.9,.8,
.9,.7,.8,.8,.9,.9,.7,.8,.8,.9,
.9,.8,.9,.9,.8,.9,.9,.9,.8,.9,
.9,.9,.9,.9,.9,.9,.9,.9,1,.9];

// ---------- (i) BETA, 400 effects ----------
const iTrue = [
-8.6,-8.2,-7.6,-7.3,-7.1,-6.9,-6.7,-6.5,-6.2,-5.9,
-5.7,-5.5,-5.3,-5.1,-4.9,-4.7,-4.5,-4.3,-4.1,-3.9,
-3.7,-3.5,-3.3,-3.2,-3.1,-3,-2.9,-2.9,-2.8,-2.8,
-2.8,-2.7,-2.7,-2.7,-2.7,-2.6,-2.6,-2.6,-2.6,-2.5,
-2.5,-2.4,-2.3,-2.3,-2.2,-2.2,-2.1,-2.1,-2.1,-2,
-2,-2,-1.9,-1.9,-1.9,-1.8,-1.8,-1.8,-1.7,-1.7,
-1.7,-1.6,-1.6,-1.6,-1.6,-1.5,-1.5,-1.5,-1.5,-1.4,
-1.4,-1.4,-1.4,-1.4,-1.3,-1.3,-1.3,-1.3,-1.3,-1.3,
-1.2,-1.2,-1.2,-1.2,-1.2,-1.1,-1.1,-1.1,-1.1,-1.1,
-1.1,-1,-1,-1,-1,-1,-1,-.9,-.9,-.9,
-.9,-.9,-.9,-.9,-.8,-.8,-.8,-.8,-.8,-.8,
-.8,-.7,-.7,-.7,-.7,-.7,-.7,-.7,-.7,-.6,
-.6,-.6,-.6,-.6,-.6,-.6,-.5,-.5,-.5,-.5,
-.5,-.5,-.4,-.4,-.4,-.4,-.4,-.4,-.3,-.3,
-.3,-.3,-.3,-.3,-.3,-.2,-.2,-.2,-.2,-.2,
-.2,-.1,-.1,-.1,-.1,-.1,0,0,0,0,
0,0,0,.1,.1,.1,.1,.1,.1,.1,
.1,.2,.2,.2,.2,.2,.2,.3,.3,.3,
.3,.3,.3,.4,.4,.4,.4,.4,.5,.5,
.5,.5,.5,.6,.6,.6,.6,.6,.6,.7,
.7,.7,.7,.7,.7,.7,.8,.8,.8,.8,
.8,.8,.8,.9,.9,.9,.9,.9,.9,.9,
1,1,1,1,1,1,1,1.1,1.1,1.1,
1.1,1.1,1.1,1.1,1.2,1.2,1.2,1.2,1.2,1.2,
1.2,1.2,1.3,1.3,1.3,1.3,1.3,1.3,1.3,1.3,
1.3,1.4,1.4,1.4,1.4,1.4,1.4,1.4,1.5,1.5,
1.5,1.5,1.5,1.5,1.5,1.6,1.6,1.6,1.6,1.6,
1.6,1.6,1.7,1.7,1.7,1.7,1.7,1.7,1.8,1.8,
1.8,1.8,1.8,1.8,1.9,1.9,1.9,1.9,1.9,1.9,
1.9,2,2,2,2,2,2,2,2.1,2.1,
2.1,2.1,2.1,2.1,2.2,2.2,2.2,2.2,2.2,2.3,
2.3,2.3,2.3,2.3,2.4,2.4,2.4,2.4,2.4,2.5,
2.5,2.5,2.5,2.5,2.5,2.6,2.6,2.6,2.6,2.7,
2.7,2.7,2.7,2.8,2.8,2.8,2.8,2.9,2.9,2.9,
2.9,2.9,2.9,3,3,3,3,3,3,3,
3.1,3.1,3.1,3.2,3.2,3.2,3.3,3.3,3.3,3.4,
3.4,3.4,3.5,3.5,3.5,3.6,3.6,3.6,3.7,3.7,
3.7,3.7,3.8,3.8,3.8,3.9,3.9,3.9,4,4,
4.1,4.1,4.2,4.2,4.3,4.4,4.5,4.6,4.7,4.8,
5,5.2,5.4,5.6,5.8,6,6.2,6.4,6.8,10];
const iEst = [
-7,-7.1,-6.8,-6.7,-6.6,-6.3,-6.4,-6.1,-5.9,-5.6,
-5.5,-5.5,-5.1,-5,-4.8,-4.5,-4.5,-4.2,-4,-3.8,
-3.6,-3.5,-3.2,-3.2,-3,-2.9,-2.9,-2.8,-2.8,-2.7,
-2.7,-2.8,-2.6,-2.7,-2.6,-2.6,-2.5,-2.7,-2.5,-2.5,
-2.4,-2.5,-2.3,-2.2,-2.3,-2.1,-2.1,-2.2,-2,-2,
-2.1,-1.9,-1.9,-2,-1.8,-1.8,-1.9,-1.7,-1.7,-1.8,
-1.6,-1.6,-1.7,-1.5,-1.6,-1.5,-1.6,-1.4,-1.5,-1.4,
-1.5,-1.3,-1.4,-1.5,-1.3,-1.2,-1.4,-1.3,-1.2,-1.3,
-1.3,-1.1,-1.2,-1.3,-1.1,-1.1,-1.2,-1,-1.1,-1.2,
-1,-1,-1.1,-.9,-1,-1.1,-.9,-.9,-1,-.8,
-.9,-1,-.8,-.9,-.8,-.9,-.7,-.8,-.8,-.9,
-.7,-.7,-.8,-.6,-.7,-.8,-.6,-.7,-.7,-.6,
-.7,-.5,-.6,-.6,-.7,-.5,-.5,-.6,-.4,-.5,
-.6,-.4,-.4,-.5,-.3,-.4,-.5,-.3,-.3,-.4,
-.2,-.3,-.4,-.2,-.3,-.3,-.1,-.2,-.3,-.2,
-.1,-.2,-.1,0,-.2,-.1,.1,0,-.1,0,
.1,-.1,0,.2,0,.1,.2,.1,0,.2,
.1,.1,.3,.2,.1,.3,.2,.2,.4,.3,
.2,.4,.3,.3,.5,.4,.3,.5,.4,.5,
.6,.4,.5,.5,.7,.6,.5,.6,.7,.6,
.7,.8,.6,.7,.8,.6,.8,.9,.7,.8,
.9,.7,.8,.9,.8,1,.9,.8,1,.9,
1,.9,1.1,1,.9,1.1,1,1,1.2,1.1,
1,1.2,1.1,1,1.2,1.3,1.1,1.2,1.2,1.1,
1.3,1.2,1.2,1.4,1.3,1.2,1.3,1.4,1.2,1.3,
1.4,1.3,1.4,1.5,1.3,1.4,1.5,1.4,1.4,1.6,
1.5,1.4,1.6,1.5,1.4,1.6,1.7,1.5,1.6,1.6,
1.5,1.7,1.6,1.7,1.8,1.6,1.7,1.8,1.7,1.8,
1.9,1.7,1.8,1.9,1.8,1.9,2,1.8,1.9,1.9,
2,1.9,2,2.1,1.9,2,2.1,2,2,2.2,
2,2.1,2.2,2,2.1,2.3,2.2,2.1,2.2,2.2,
2.3,2.2,2.4,2.2,2.3,2.4,2.3,2.5,2.3,2.4,
2.5,2.4,2.6,2.4,2.5,2.5,2.7,2.5,2.6,2.6,
2.6,2.8,2.6,2.7,2.8,2.7,2.9,2.8,2.8,3,
2.8,2.9,2.8,3,2.9,2.9,3.1,2.9,3,2.9,
3,3.1,3,3.1,3.2,3,3.2,3.3,3.2,3.3,
3.3,3.3,3.4,3.3,3.5,3.4,3.5,3.5,3.5,3.6,
3.6,3.5,3.7,3.6,3.6,3.8,3.7,3.7,3.8,3.9,
3.9,3.9,4,4,4.1,4.2,4.2,4.3,4.5,4.5,
4.7,4.9,5.1,5.2,5.5,5.7,5.9,6,6.5,6.6];
const iErr = [
.6,.6,.6,.5,.5,.5,.5,.5,.5,.4,
.4,.3,.4,.5,.4,.3,.4,.4,.5,.3,
.3,.4,.4,.3,.5,.4,.3,.4,.4,.5,
.5,.4,.3,.4,.4,.5,.4,.3,.4,.4,
.4,.5,.4,.4,.3,.4,.5,.4,.3,.4,
.4,.3,.4,.5,.4,.3,.4,.4,.5,.3,
.3,.4,.4,.3,.5,.4,.3,.4,.4,.5,
.5,.4,.3,.4,.4,.5,.4,.3,.4,.4,
.4,.5,.4,.4,.3,.4,.5,.4,.3,.4,
.4,.3,.4,.5,.4,.3,.4,.4,.5,.3,
.3,.4,.4,.3,.5,.4,.3,.4,.4,.5,
.5,.4,.3,.4,.4,.5,.4,.3,.4,.4,
.4,.5,.4,.4,.3,.4,.5,.4,.3,.4,
.4,.3,.4,.5,.4,.3,.4,.4,.5,.3,
.3,.4,.4,.3,.5,.4,.3,.4,.4,.5,
.5,.4,.3,.4,.4,.5,.4,.3,.4,.4,
.4,.5,.4,.4,.3,.4,.5,.4,.3,.4,
.4,.3,.4,.5,.4,.3,.4,.4,.5,.3,
.3,.4,.4,.3,.5,.4,.3,.4,.4,.5,
.5,.4,.3,.4,.4,.5,.4,.3,.4,.4,
.4,.5,.4,.4,.3,.4,.5,.4,.3,.4,
.4,.3,.4,.5,.4,.3,.4,.4,.5,.3,
.3,.4,.4,.3,.5,.4,.3,.4,.4,.5,
.5,.4,.3,.4,.4,.5,.4,.3,.4,.4,
.4,.5,.4,.4,.3,.4,.5,.4,.3,.4,
.4,.3,.4,.5,.4,.3,.4,.4,.5,.3,
.3,.4,.4,.3,.5,.4,.3,.4,.4,.5,
.5,.4,.3,.4,.4,.5,.4,.3,.4,.4,
.4,.5,.4,.4,.3,.4,.5,.4,.3,.4,
.4,.3,.4,.5,.4,.3,.4,.4,.5,.3,
.3,.4,.4,.3,.5,.4,.3,.4,.4,.5,
.5,.4,.3,.4,.4,.5,.4,.3,.4,.4,
.4,.5,.4,.4,.3,.4,.5,.4,.3,.4,
.4,.3,.4,.5,.4,.3,.4,.4,.5,.3,
.4,.4,.4,.5,.4,.4,.5,.4,.5,.4,
.5,.4,.5,.5,.4,.5,.5,.4,.5,.5,
.5,.5,.4,.5,.5,.5,.5,.5,.5,.5,
.5,.5,.5,.5,.5,.5,.6,.5,.5,.6,
.5,.5,.6,.5,.6,.6,.5,.6,.6,.6,
.6,.7,.6,.7,.7,.6,.7,.7,.8,.5];

// ---------- build chart ----------
const idx = n => Array.from({length: n}, (_, k) => k + 1);
const FONT = '"Liberation Sans", Arial, Helvetica, sans-serif';

const panels = [
  {box:[66.5,50.7,331.5,148.3], x:[-7,208], y:[-3.6,4.64], xt:ticks200, yt:yTicksAB, vx:100, hz:true, lc:'#999', kind:'row1', xs:idx(200), tru:aTrue, est:aEst, err:aErr},
  {box:[469.3,50.7,330.7,147.5], x:[-7,207.5], y:[-3.88,4.96], xt:ticks200, yt:yTicksAB, vx:100, hz:true, lc:'#555', kind:'row1', xs:idx(200), tru:bTrue, est:bEst, err:bErr},
  {box:[882.3,51.7,331,147.3], x:[-7.1,207.5], y:[-2.63,3.06], xt:ticks200, yt:yTicksC, vx:100, hz:true, lc:'#444', kind:'row1', xs:idx(200), tru:cTrue, est:cEst, err:cErr},
  {box:[64.3,259,331.7,146.7], x:[.72,8.28], y:[-2.22,3.72], xt:ticks8, yt:yTicksRow2, vx:4.5, hz:false, lc:'#999', kind:'row2', xs:ticks8, tru:trueEffects8, est:dEst, lo:dLo, hi:dHi},
  {box:[471.7,259.3,331.6,145.7], x:[.72,8.28], y:[-2.22,3.72], xt:ticks8, yt:yTicksRow2, vx:4.5, hz:false, lc:'#aaa', kind:'row2', xs:ticks8, tru:trueEffects8, est:eEst, lo:eLo, hi:eHi},
  {box:[882.7,259,331.3,146], x:[.72,8.28], y:[-2.22,3.72], xt:ticks8, yt:yTicksRow2, vx:4.5, hz:false, lc:'#555', kind:'row2', xs:ticks8, tru:trueEffects8, est:fEst, lo:fLo, hi:fHi},
  {box:[64.3,467.7,331.7,146.6], x:[-15,416], y:[-10.7,10.6], xt:ticks400, yt:yTicksRow3, vx:200, hz:true, lc:'#999', kind:'row3', xs:idx(400), tru:gTrue, est:gEst, err:gErr},
  {box:[471.7,467.7,331.6,146.6], x:[-15,416], y:[-10.7,10.6], xt:ticks400, yt:yTicksRow3, vx:200, hz:true, lc:'#999', kind:'row3', xs:idx(400), tru:hTrue, est:hEst, err:hErr},
  {box:[882.7,467.7,331.3,146.6], x:[-15,416], y:[-10.7,10.6], xt:ticks400, yt:yTicksRow3, vx:200, hz:true, lc:'#888', kind:'row3', xs:idx(400), tru:iTrue, est:iEst, err:iErr}
];

const styles = {
  row1: {bar:'#c2c2c2', lw:1, cap:'#8c8c8c', clw:1, cw:2, bs:4.5, rs:3.5},
  row2: {bar:'#333', lw:2, cap:'#222', clw:1.5, cw:3, bs:7.5, rs:8},
  row3: {bar:'#c4c4c4', lw:1, cap:'#999', clw:1, cw:1.5, bs:2.4, rs:3}
};

const grids = [], xAxes = [], yAxes = [], series = [];
panels.forEach((p, gi) => {
  const st = styles[p.kind];
  grids.push({left:p.box[0], top:p.box[1], width:p.box[2], height:p.box[3], show:true,
    borderColor:'#c8c8c8', borderWidth:1, backgroundColor:'transparent', containLabel:false, outerBoundsMode:'none'});
  const axisCommon = (ticks) => ({
    axisLine:{show:false}, splitLine:{show:false},
    axisTick:{show:true, inside:false, length:3, lineStyle:{color:'#999', width:1}, customValues:ticks},
  });
  xAxes.push(Object.assign({gridIndex:gi, type:'value', min:p.x[0], max:p.x[1]}, axisCommon(p.xt),
    {axisLabel:{show:true, customValues:p.xt, color:'#222', fontSize:13, fontFamily:FONT, margin:1}}));
  yAxes.push(Object.assign({gridIndex:gi, type:'value', min:p.y[0], max:p.y[1]}, axisCommon(p.yt),
    {axisLabel:{show:true, customValues:p.yt, color:'#222', fontSize:13, fontFamily:FONT, margin:4, rotate:90}}));

  const bars = [];
  for (let k = 0; k < p.xs.length; k++) {
    if (p.kind === 'row2') bars.push([p.xs[k], p.lo[k], p.hi[k]]);
    else if (p.err[k] > 0) bars.push([p.xs[k], p.est[k] - p.err[k], p.est[k] + p.err[k]]);
  }
  const mlData = [{xAxis:p.vx}];
  if (p.hz) mlData.push({yAxis:0});
  series.push({
    type:'custom', xAxisIndex:gi, yAxisIndex:gi, data:bars, silent:true, z:2, clip:true, animation:false,
    renderItem:(params, api) => {
      const x = api.value(0), lo = api.value(1), hi = api.value(2);
      const a = api.coord([x, lo]), b = api.coord([x, hi]);
      return {type:'group', children:[
        {type:'line', shape:{x1:a[0], y1:a[1], x2:b[0], y2:b[1]}, style:{stroke:st.bar, lineWidth:st.lw}},
        {type:'line', shape:{x1:a[0]-st.cw, y1:a[1], x2:a[0]+st.cw, y2:a[1]}, style:{stroke:st.cap, lineWidth:st.clw}},
        {type:'line', shape:{x1:b[0]-st.cw, y1:b[1], x2:b[0]+st.cw, y2:b[1]}, style:{stroke:st.cap, lineWidth:st.clw}}
      ]};
    },
    markLine:{silent:true, symbol:'none', animation:false, label:{show:false},
      lineStyle:{color:p.lc, width:1, type:'solid', opacity:1}, emphasis:{disabled:true}, data:mlData}
  });
  series.push({type:'scatter', xAxisIndex:gi, yAxisIndex:gi, silent:true, z:3, animation:false, clip:true,
    symbol:'circle', symbolSize:st.bs, itemStyle:{color:'#000', opacity:1},
    data:p.xs.map((x, k) => [x, p.est[k]])});
  series.push({type:'scatter', xAxisIndex:gi, yAxisIndex:gi, silent:true, z:4, animation:false, clip:true,
    symbol:'circle', symbolSize:st.rs, itemStyle:{color:'#ff0000', opacity:1},
    data:p.xs.map((x, k) => [x, p.tru[k]])});
});

const titlePos = [[221, 21], [609, 21], [1038, 21]];
const labelPos = [[22,136],[428,137],[845,136],[22,341],[429,341],[846,343],[22,541],[429,543],[847,545]];
const graphic = [
  {type:'rect', shape:{x:407, y:0, width:4, height:639}, style:{fill:'#000'}, z:10},
  {type:'rect', shape:{x:815, y:0, width:4, height:639}, style:{fill:'#000'}, z:10}
];
columnTitles.forEach((t, k) => graphic.push({type:'text', x:titlePos[k][0], y:titlePos[k][1], z:10,
  style:{text:t, fontSize:22, fontWeight:'bold', fontFamily:'"Open Sans", "DejaVu Sans", sans-serif', fill:'#111', align:'center', verticalAlign:'middle'}}));
panelLabels.forEach((t, k) => graphic.push({type:'text', x:labelPos[k][0], y:labelPos[k][1], z:10,
  style:{text:t, fontSize:22, fontWeight:'bold', fontFamily:'"Open Sans", "DejaVu Sans", sans-serif', fill:'#111', align:'center', verticalAlign:'middle'}}));

const chart = echarts.init(document.getElementById('c'), null, {renderer:'canvas'});
chart.setOption({
  animation:false,
  backgroundColor:'#fff',
  grid:grids, xAxis:xAxes, yAxis:yAxes, series:series, graphic:graphic
});
</script>
</body></html>
